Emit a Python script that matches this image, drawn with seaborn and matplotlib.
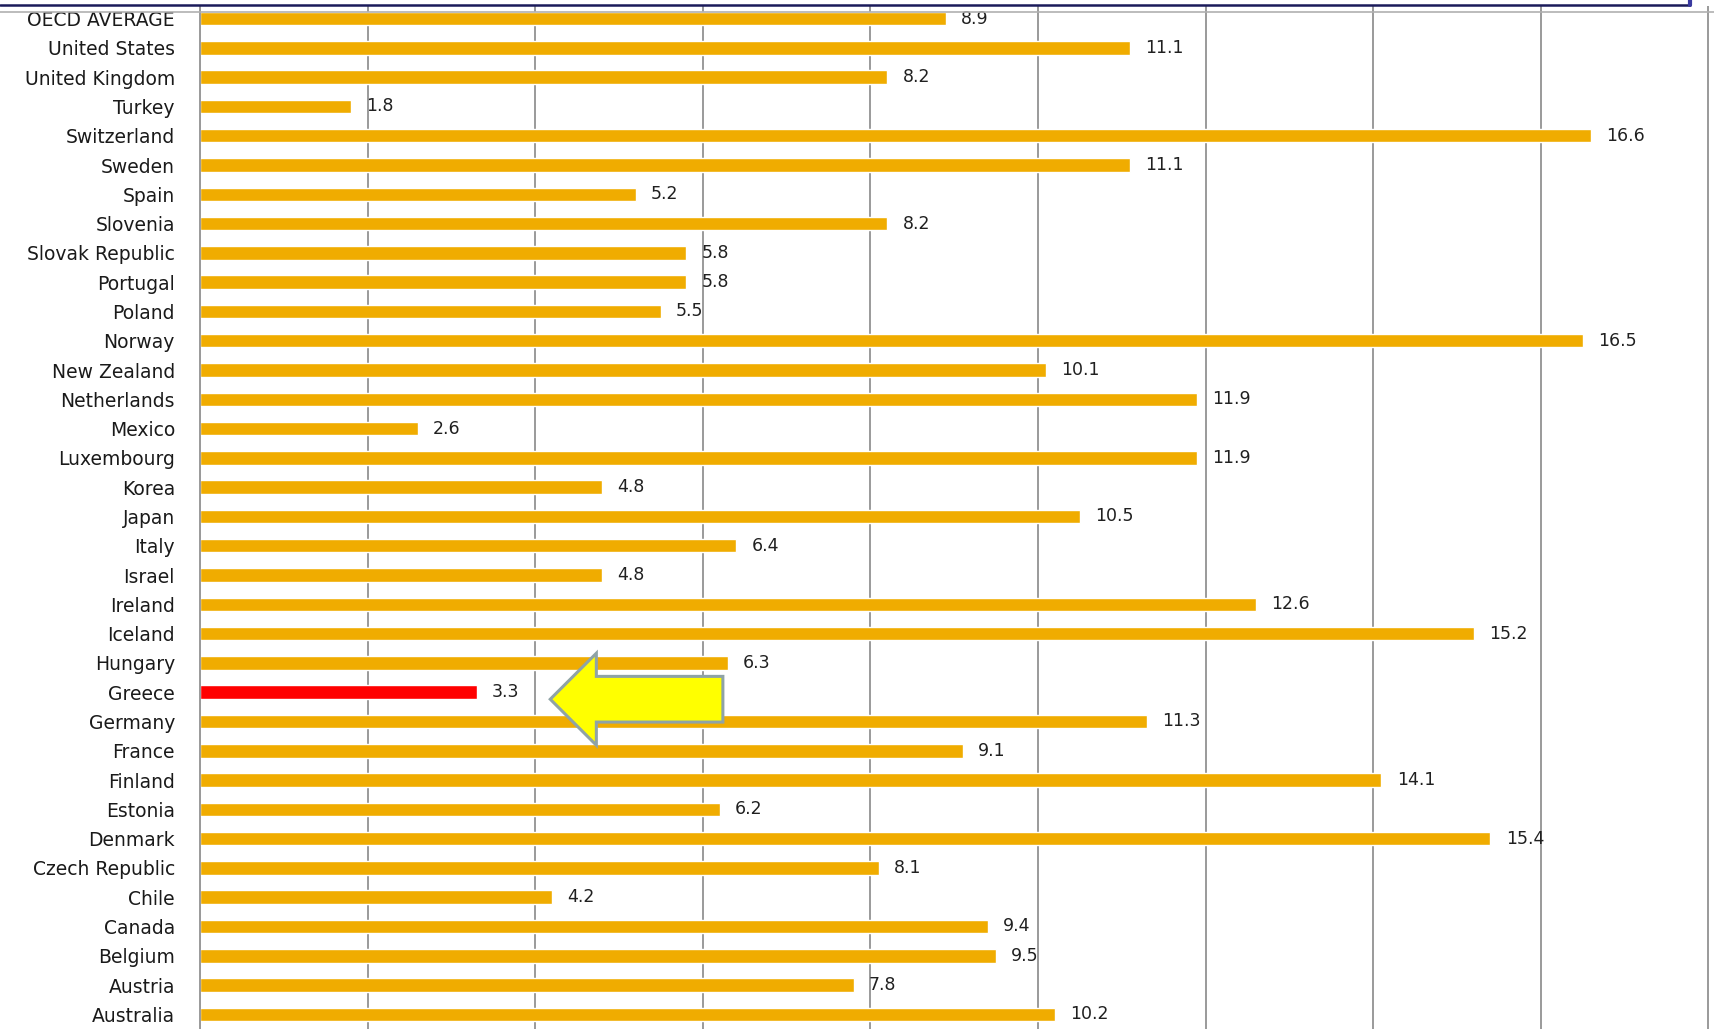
import matplotlib.pyplot as plt
import seaborn as sns
import pandas as pd
from matplotlib.patches import FancyArrow
from matplotlib.lines import Line2D
from matplotlib.transforms import offset_copy

countries = ['OECD AVERAGE', 'United States', 'United Kingdom', 'Turkey', 'Switzerland',
             'Sweden', 'Spain', 'Slovenia', 'Slovak Republic', 'Portugal', 'Poland',
             'Norway', 'New Zealand', 'Netherlands', 'Mexico', 'Luxembourg', 'Korea',
             'Japan', 'Italy', 'Israel', 'Ireland', 'Iceland', 'Hungary', 'Greece',
             'Germany', 'France', 'Finland', 'Estonia', 'Denmark', 'Czech Republic',
             'Chile', 'Canada', 'Belgium', 'Austria', 'Australia']
values = [8.9, 11.1, 8.2, 1.8, 16.6, 11.1, 5.2, 8.2, 5.8, 5.8, 5.5, 16.5, 10.1, 11.9,
          2.6, 11.9, 4.8, 10.5, 6.4, 4.8, 12.6, 15.2, 6.3, 3.3, 11.3, 9.1, 14.1, 6.2,
          15.4, 8.1, 4.2, 9.4, 9.5, 7.8, 10.2]
highlight = 'Greece'

bar_color = '#F0AC00'
red = '#FF0000'

df = pd.DataFrame({'country': countries, 'value': values})
palette = {c: (red if c == highlight else bar_color) for c in countries}

sns.set_style('white')
plt.rcParams['font.family'] = ['DejaVu Sans']

W, H = 1715, 1029
fig = plt.figure(figsize=(W / 100, H / 100), dpi=100)
ax = fig.add_axes([200 / W, 0, (W - 200) / W, 1 - 6 / H])

sns.barplot(data=df, x='value', y='country', hue='country', palette=palette,
            legend=False, orient='h', width=0.46, saturation=1, ax=ax)

for cont in ax.containers:
    labels = ax.bar_label(cont, fmt='%.1f', padding=11, fontsize=12.5, color='#202020')
    for t in labels:
        # excel labels sit a touch below the bar centre
        t.set_transform(offset_copy(t.get_transform(), fig=fig, x=0, y=-2, units='dots'))

ax.set_xlim(0, 18.08)
ax.set_ylim(34.37, -0.43)
ax.set_xticks(range(0, 19, 2))
ax.xaxis.grid(True, color='#9a9a9a', linewidth=1.4)
ax.set_axisbelow(True)
ax.set_xlabel('')
ax.set_ylabel('')
ax.tick_params(axis='x', labelbottom=False, length=0)

ax.set_yticks(range(len(countries)))
ax.set_yticklabels(countries, fontsize=13.5, color='#1a1a1a')
ax.tick_params(axis='y', which='major', length=0, pad=18)
ax.set_yticks([i + 0.5 for i in range(len(countries))], minor=True)
ax.tick_params(axis='y', which='minor', length=6, width=1.2, color='#9a9a9a')

for side in ['top', 'right', 'bottom']:
    ax.spines[side].set_visible(False)
ax.spines['left'].set_color('#9a9a9a')
ax.spines['left'].set_linewidth(1.4)

# yellow arrow pointing at Greece
gi = countries.index(highlight)
arrow = FancyArrow(6.24, gi + 0.24, -2.06, 0, width=1.56, head_width=3.14,
                   head_length=0.55, length_includes_head=True,
                   facecolor='#FFFF00', edgecolor='#8FA3A6', linewidth=2.2, zorder=5)
ax.add_patch(arrow)

# slide frame lines at the top
fig.add_artist(Line2D([0, 1], [1 - 12 / H, 1 - 12 / H], color='#b0b0b0', linewidth=1.2))
fig.add_artist(Line2D([0, 1690 / W], [1 - 5 / H, 1 - 5 / H], color='#1a1a5a', linewidth=1.8))
fig.add_artist(Line2D([1690 / W, 1690 / W], [1 - 5 / H, 1], color='#3a3aa0', linewidth=3))

fig.savefig('out.png', dpi=100)
